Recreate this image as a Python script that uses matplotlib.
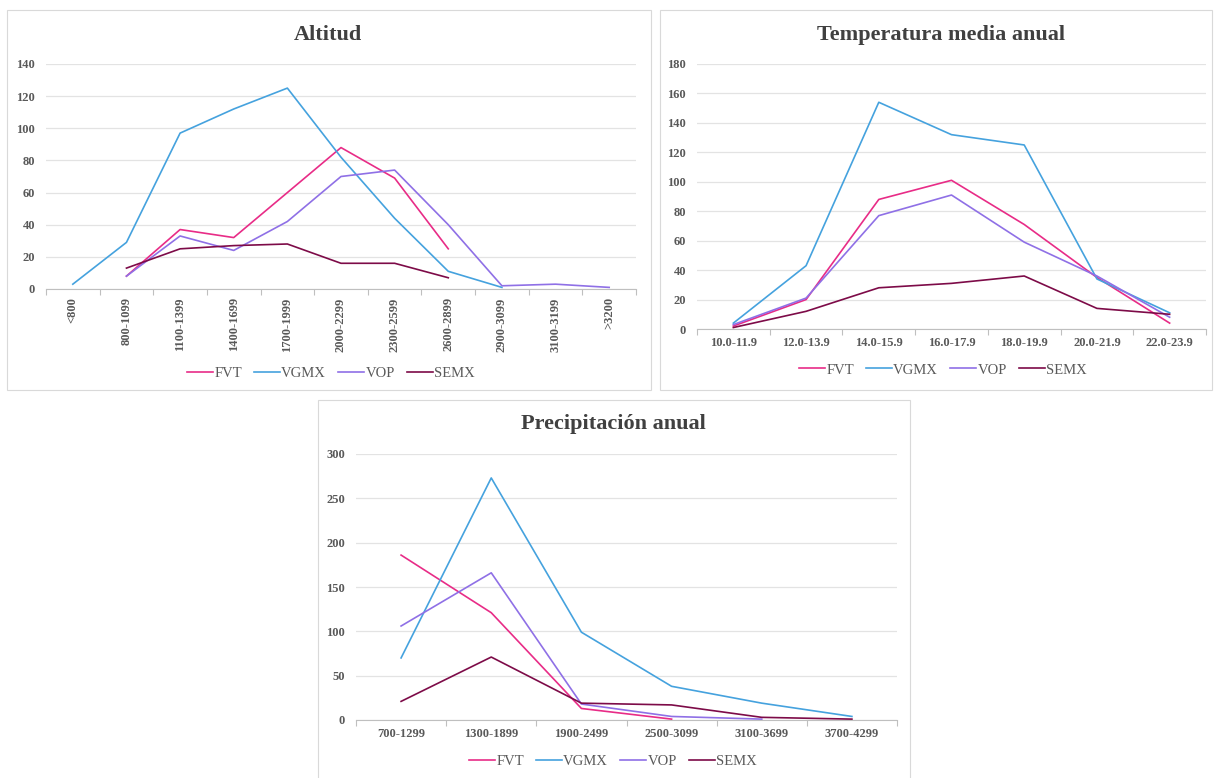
import numpy as np
import matplotlib
matplotlib.use("Agg")
import matplotlib.pyplot as plt
from matplotlib.patches import Rectangle

plt.rcParams['font.family'] = ['Liberation Serif', 'DejaVu Serif']

# 데이터
series_names = ['FVT', 'VGMX', 'VOP', 'SEMX']
series_colors = ['#E82C87', '#45A2DE', '#8F70E6', '#7D0B48']

alt_labels = ['<800', '800-1099', '1100-1399', '1400-1699', '1700-1999', '2000-2299',
              '2300-2599', '2600-2899', '2900-3099', '3100-3199', '>3200']
alt_fvt = [np.nan, 8, 37, 32, 60, 88, 69, 25, np.nan, np.nan, np.nan]
alt_vgmx = [3, 29, 97, 112, 125, 82, 44, 11, 1, np.nan, np.nan]
alt_vop = [np.nan, 8, 33, 24, 42, 70, 74, 40, 2, 3, 1]
alt_semx = [np.nan, 13, 25, 27, 28, 16, 16, 7, np.nan, np.nan, np.nan]

temp_labels = ['10.0-11.9', '12.0-13.9', '14.0-15.9', '16.0-17.9', '18.0-19.9', '20.0-21.9', '22.0-23.9']
temp_fvt = [2, 20, 88, 101, 71, 35, 4]
temp_vgmx = [4, 43, 154, 132, 125, 34, 11]
temp_vop = [3, 21, 77, 91, 59, 36, 8]
temp_semx = [1, 12, 28, 31, 36, 14, 10]

prec_labels = ['700-1299', '1300-1899', '1900-2499', '2500-3099', '3100-3699', '3700-4299']
prec_fvt = [186, 121, 13, 1, np.nan, np.nan]
prec_vgmx = [70, 273, 99, 38, 19, 4]
prec_vop = [106, 166, 18, 4, 1, np.nan]
prec_semx = [21, 71, 19, 17, 3, 1]

W, H = 1215, 778
fig = plt.figure(figsize=(W / 100, H / 100), dpi=100)
fig.patch.set_facecolor('white')


def px_axes(x0, x1, y_top, y_bot):
    return fig.add_axes([x0 / W, (H - y_bot) / H, (x1 - x0) / W, (y_bot - y_top) / H])


def panel_box(x0, y0, x1, y1):
    fig.patches.append(Rectangle((x0 / W, (H - y1) / H), (x1 - x0) / W, (y1 - y0) / H,
                                 transform=fig.transFigure, fill=False,
                                 edgecolor='#D9D9D9', linewidth=0.8))


def draw_chart(ax, labels, data, ymax, ystep, rot):
    n = len(labels)
    x = np.arange(n)
    lines = []
    for vals, name, col in zip(data, series_names, series_colors):
        ln, = ax.plot(x, vals, color=col, linewidth=1.2, label=name)
        lines.append(ln)
    ax.set_xlim(-0.5, n - 0.5)
    ax.set_ylim(0, ymax)
    ax.set_yticks(np.arange(0, ymax + 1, ystep))
    ax.set_xticks(x)
    ax.set_xticks(np.arange(n + 1) - 0.5, minor=True)
    ax.set_xticklabels(labels, rotation=rot, fontweight='bold', fontsize=9, color='#595959')
    for t in ax.get_yticklabels():
        t.set_fontweight('bold')
        t.set_fontsize(9)
        t.set_color('#595959')
    ax.tick_params(axis='x', which='major', length=0, pad=6)
    ax.tick_params(axis='x', which='minor', length=4, color='#BFBFBF', width=0.8)
    ax.tick_params(axis='y', length=0, pad=8)
    ax.grid(axis='y', color='#E3E3E3', linewidth=0.9)
    ax.set_axisbelow(True)
    for s in ['left', 'right', 'top']:
        ax.spines[s].set_visible(False)
    ax.spines['bottom'].set_color('#BFBFBF')
    ax.spines['bottom'].set_linewidth(0.8)
    ax.spines['bottom'].set_zorder(0.5)
    return lines


# 패널 테두리
panel_box(7, 10, 651, 390)
panel_box(660, 10, 1212, 390)
panel_box(318, 400, 910, 780)

ax1 = px_axes(46, 636, 64, 289)
l1 = draw_chart(ax1, alt_labels, [alt_fvt, alt_vgmx, alt_vop, alt_semx], 140, 20, 90)
ax2 = px_axes(697, 1206, 64, 329)
l2 = draw_chart(ax2, temp_labels, [temp_fvt, temp_vgmx, temp_vop, temp_semx], 180, 20, 0)
ax3 = px_axes(356, 897, 454, 720)
l3 = draw_chart(ax3, prec_labels, [prec_fvt, prec_vgmx, prec_vop, prec_semx], 300, 50, 0)

title_kw = dict(ha='center', va='center', fontsize=16, fontweight='bold', color='#404040')
fig.text(328 / W, 1 - 35 / H, 'Altitud', **title_kw)
fig.text(941 / W, 1 - 35 / H, 'Temperatura media anual', **title_kw)
fig.text(613 / W, 1 - 424 / H, 'Precipitación anual', **title_kw)

leg_kw = dict(loc='center', ncol=4, frameon=False, fontsize=10.5, handlelength=1.75,
              columnspacing=0.85, handletextpad=0.1, labelcolor='#595959')
fig.legend(handles=l1, bbox_to_anchor=(331 / W, 1 - 373 / H), **leg_kw)
fig.legend(handles=l2, bbox_to_anchor=(943 / W, 1 - 370 / H), **leg_kw)
fig.legend(handles=l3, bbox_to_anchor=(613 / W, 1 - 761 / H), **leg_kw)

fig.savefig('out.png', dpi=100, facecolor='white')
